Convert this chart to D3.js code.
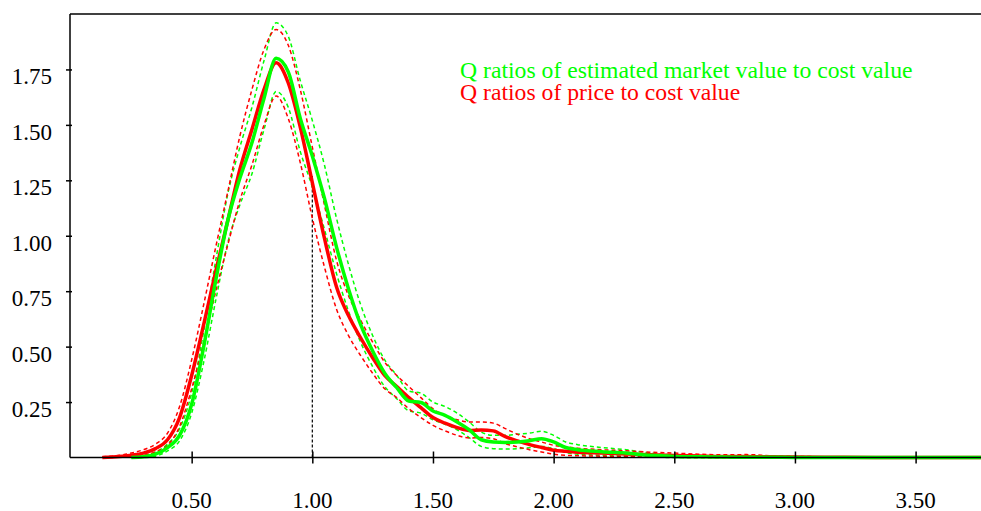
<!DOCTYPE html>
<html>
<head>
<meta charset="utf-8">
<script src="https://d3js.org/d3.v7.min.js"></script>
</head>
<body style="margin:0">
<script>
// grid of Q ratio values
var grid = [0.13, 0.2, 0.25, 0.3, 0.35, 0.4, 0.45, 0.5, 0.55, 0.6, 0.65, 0.7, 0.75, 0.8, 0.85, 0.9, 0.95,
    1.0, 1.05, 1.1, 1.15, 1.2, 1.25, 1.3, 1.35, 1.4, 1.45, 1.5, 1.55, 1.6, 1.65, 1.7, 1.75, 1.8, 1.85,
    1.9, 1.95, 2.0, 2.05, 2.1, 2.2, 2.3, 2.4, 2.5, 2.6, 2.7, 2.8, 2.9, 3.0, 3.2, 3.4, 3.6, 3.8];

// price / cost value (red)
var priceMid = [0, 0.004, 0.01, 0.02, 0.04, 0.08, 0.18, 0.37, 0.6, 0.84, 1.07, 1.3, 1.48, 1.66, 1.78, 1.69, 1.49,
    1.24, 0.99, 0.77, 0.64, 0.54, 0.45, 0.37, 0.32, 0.27, 0.225, 0.18, 0.155, 0.135, 0.122, 0.124, 0.12, 0.094, 0.075,
    0.058, 0.045, 0.033, 0.028, 0.024, 0.02, 0.016, 0.012, 0.009, 0.007, 0.005, 0.005, 0.003, 0.002, 0.001, 0, 0, 0];
var priceHi = [0.003, 0.01, 0.02, 0.035, 0.06, 0.11, 0.23, 0.44, 0.69, 0.95, 1.2, 1.45, 1.66, 1.84, 1.93, 1.86, 1.66,
    1.4, 1.14, 0.89, 0.73, 0.62, 0.52, 0.43, 0.37, 0.32, 0.27, 0.22, 0.19, 0.17, 0.16, 0.16, 0.155, 0.13, 0.105,
    0.085, 0.07, 0.055, 0.048, 0.042, 0.035, 0.03, 0.024, 0.02, 0.015, 0.012, 0.013, 0.008, 0.005, 0.003, 0.002, 0.001, 0.001];
var priceLo = [0, 0.001, 0.004, 0.01, 0.025, 0.055, 0.14, 0.31, 0.52, 0.75, 0.96, 1.16, 1.32, 1.5, 1.63, 1.53, 1.33,
    1.08, 0.86, 0.67, 0.55, 0.46, 0.38, 0.31, 0.27, 0.22, 0.18, 0.145, 0.12, 0.1, 0.088, 0.09, 0.085, 0.062, 0.048,
    0.035, 0.025, 0.015, 0.01, 0.008, 0.006, 0.004, 0.002, 0.001, 0, 0, 0, 0, 0, 0, 0, 0, 0];

// estimated market value / cost value (green)
var marketMid = [null, null, 0, 0.003, 0.015, 0.045, 0.1, 0.24, 0.5, 0.8, 1.07, 1.26, 1.42, 1.62, 1.8, 1.74, 1.53,
    1.36, 1.17, 0.95, 0.76, 0.6, 0.48, 0.38, 0.315, 0.255, 0.248, 0.21, 0.19, 0.16, 0.125, 0.08, 0.07, 0.068, 0.07,
    0.076, 0.085, 0.07, 0.045, 0.035, 0.026, 0.02, 0.01, 0.005, 0.003, 0.002, 0.001, 0.001, 0, 0, 0, 0, 0];
var marketHi = [null, null, 0.002, 0.008, 0.025, 0.06, 0.13, 0.29, 0.57, 0.89, 1.19, 1.4, 1.58, 1.79, 1.96, 1.9, 1.7,
    1.52, 1.32, 1.08, 0.87, 0.69, 0.55, 0.44, 0.37, 0.3, 0.29, 0.25, 0.23, 0.2, 0.16, 0.115, 0.1, 0.1, 0.105,
    0.11, 0.118, 0.1, 0.07, 0.058, 0.045, 0.035, 0.02, 0.012, 0.008, 0.006, 0.005, 0.004, 0.003, 0.003, 0.003, 0.003, 0.003];
var marketLo = [null, null, 0, 0, 0.006, 0.03, 0.075, 0.2, 0.43, 0.71, 0.97, 1.14, 1.28, 1.48, 1.65, 1.58, 1.38,
    1.22, 1.03, 0.83, 0.66, 0.52, 0.41, 0.32, 0.265, 0.21, 0.2, 0.17, 0.15, 0.125, 0.09, 0.05, 0.04, 0.038, 0.04,
    0.044, 0.05, 0.04, 0.022, 0.015, 0.01, 0.006, 0.002, 0, 0, 0, 0, 0, 0, 0, 0, 0, 0];

var xTicks = [0.5, 1.0, 1.5, 2.0, 2.5, 3.0, 3.5];
var yTicks = [0.25, 0.5, 0.75, 1.0, 1.25, 1.5, 1.75];
var refX = 1.0, refTop = 1.27;
var labels = ["Q ratios of estimated market value to cost value", "Q ratios of price to cost value"];

var width = 981, height = 511;
var GREEN = "#00ff00", RED = "#ff0000";
var FONT = "'Liberation Serif'";
var fmt = d3.format(".2f");

var svg = d3.select("body").append("svg")
    .attr("width", width)
    .attr("height", height)
    .style("font-family", FONT);

// スケール
var xScale = d3.scaleLinear().domain([0, 3.8]).range([71, 988]);
var yScale = d3.scaleLinear().domain([0, 2.0]).range([457.5, 14]);

function series(vals) {
    return grid.map(function (x, i) { return { x: x, y: vals[i] }; });
}

var line = d3.line()
    .defined(function (d) { return d.y != null; })
    .x(function (d) { return xScale(d.x); })
    .y(function (d) { return yScale(d.y); })
    .curve(d3.curveMonotoneX);

// reference line at Q = 1
svg.append("line")
    .attr("x1", xScale(refX)).attr("x2", xScale(refX))
    .attr("y1", yScale(0)).attr("y2", yScale(refTop))
    .attr("stroke", "#000")
    .attr("stroke-width", 1.2)
    .attr("stroke-dasharray", "3,2");

// bands (dashed) then mean lines
var bands = [
    { vals: marketHi, color: GREEN }, { vals: marketLo, color: GREEN },
    { vals: priceHi, color: RED }, { vals: priceLo, color: RED }
];
svg.append("g").selectAll("path")
    .data(bands)
    .enter()
    .append("path")
    .attr("d", function (d) { return line(series(d.vals)); })
    .attr("fill", "none")
    .attr("stroke", function (d) { return d.color; })
    .attr("stroke-width", 1.5)
    .attr("stroke-dasharray", "4,3");

svg.append("path")
    .attr("d", line(series(priceMid)))
    .attr("fill", "none")
    .attr("stroke", RED)
    .attr("stroke-width", 3.5);

svg.append("path")
    .attr("d", line(series(marketMid)))
    .attr("fill", "none")
    .attr("stroke", GREEN)
    .attr("stroke-width", 3.5);

// frame: top border
svg.append("line")
    .attr("x1", 70).attr("x2", width)
    .attr("y1", yScale(2.0)).attr("y2", yScale(2.0))
    .attr("stroke", "#000")
    .attr("stroke-width", 1.5);

// X 軸 (tick lines from the axis, labels drawn as plain texts)
var xAxis = d3.axisBottom(xScale)
    .tickValues(xTicks)
    .tickFormat("")
    .tickSize(6)
    .tickSizeOuter(0);
var gx = svg.append("g")
    .attr("transform", "translate(0," + yScale(0) + ")")
    .call(xAxis);
gx.select(".domain").attr("d", "M70,0H" + width).attr("stroke-width", 1.5);
gx.selectAll(".tick line").attr("y1", -6).attr("y2", 6).attr("stroke-width", 1.5);

svg.append("g").selectAll("text")
    .data(xTicks)
    .enter()
    .append("text")
    .attr("x", function (d) { return xScale(d); })
    .attr("y", 508)
    .attr("text-anchor", "middle")
    .style("font-family", FONT)
    .style("font-size", "23px")
    .text(function (d) { return fmt(d); });

// Y 軸
var yAxis = d3.axisLeft(yScale)
    .tickValues(yTicks)
    .tickFormat("")
    .tickSize(4)
    .tickSizeOuter(0);
var gy = svg.append("g")
    .attr("transform", "translate(70,0)")
    .call(yAxis);
gy.select(".domain").attr("d", "M0," + yScale(2.0) + "V" + yScale(0)).attr("stroke-width", 1.5);
gy.selectAll(".tick line").attr("x1", -4).attr("x2", 2).attr("stroke-width", 1.5);

// labels sit just below their tick, as in the original
svg.append("g").selectAll("text")
    .data(yTicks)
    .enter()
    .append("text")
    .attr("x", 52)
    .attr("y", function (d) { return yScale(d) + 15; })
    .attr("text-anchor", "end")
    .style("font-family", FONT)
    .style("font-size", "23px")
    .text(function (d) { return fmt(d); });

// legend
svg.append("g")
    .selectAll("text")
    .data(labels)
    .enter()
    .append("text")
    .attr("x", 460)
    .attr("y", function (d, i) { return 78 + i * 22; })
    .style("font-family", FONT)
    .style("font-size", "23.7px")
    .attr("fill", function (d, i) { return i == 0 ? GREEN : RED; })
    .text(function (d) { return d; });
</script>
</body>
</html>
